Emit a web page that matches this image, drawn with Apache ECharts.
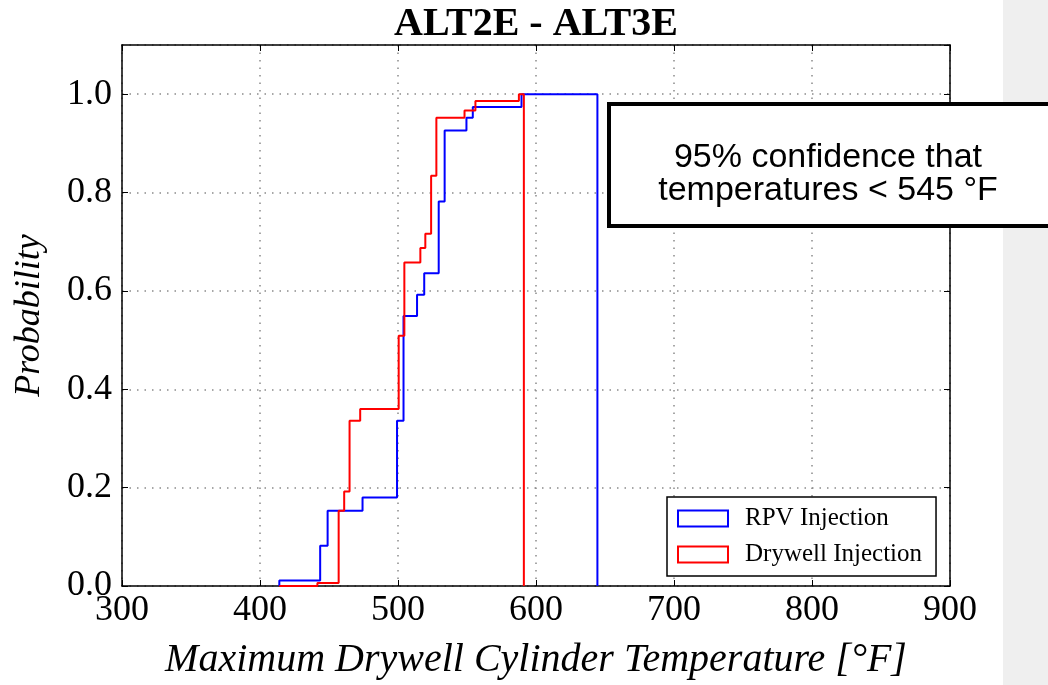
<!DOCTYPE html>
<html>
<head>
<meta charset="utf-8">
<script src="https://cdn.jsdelivr.net/npm/echarts@6/dist/echarts.min.js"></script>
<style>html,body{margin:0;padding:0;background:#fff;}#c{width:1048px;height:685px;}</style>
</head>
<body>
<div id="c"></div>
<script>
// Data (step CDF points: value holds from x until the next x)
const rpvTemp = [414, 414, 443.6, 449, 474.3, 499.3, 504, 513.8, 519, 529.5, 533.8, 549.6, 554.2, 589.5, 644.5];
const rpvProb = [0, 0.011, 0.082, 0.153, 0.180, 0.336, 0.549, 0.592, 0.636, 0.782, 0.926, 0.952, 0.974, 1.0, 0];
const dwTemp = [414, 441.6, 457, 461, 464.9, 472.6, 500.5, 504.6, 516.2, 519.8, 524, 527.8, 548.2, 556.1, 587.6, 591.2];
const dwProb = [0, 0.006, 0.153, 0.192, 0.336, 0.36, 0.509, 0.658, 0.687, 0.716, 0.834, 0.952, 0.967, 0.986, 1.0, 0];
const seriesNames = ['RPV Injection', 'Drywell Injection'];
const titleText = 'ALT2E - ALT3E';
const xName = 'Maximum Drywell Cylinder Temperature [°F]';
const yName = 'Probability';
const noteLines = ['95% confidence that', 'temperatures < 545 °F'];

const serif = '"Liberation Serif", "DejaVu Serif", serif';
const zip = (xs, ys) => xs.map((x, i) => [x, ys[i]]);

const chart = echarts.init(document.getElementById('c'));
const gridLine = {show: true, lineStyle: {color: '#8a8a8a', type: [1.5, 6], width: 1.5}};
chart.setOption({
  animation: false,
  title: {text: titleText, left: 531, textAlign: 'center', top: 0,
    textStyle: {fontFamily: serif, fontWeight: 'bold', fontSize: 40, color: '#000'}},
  grid: {left: 122, right: 98, top: 45, bottom: 97},
  xAxis: [{
    type: 'value', min: 300, max: 900, interval: 100,
    name: xName, nameLocation: 'middle', nameGap: 54,
    nameTextStyle: {fontFamily: serif, fontStyle: 'italic', fontSize: 40, color: '#000'},
    axisLine: {onZero: false, lineStyle: {color: '#000', width: 1.5}},
    axisTick: {inside: true, length: 6, lineStyle: {color: '#000'}},
    axisLabel: {fontFamily: serif, fontSize: 36, color: '#000', margin: 7},
    splitLine: gridLine
  }, {
    type: 'value', position: 'top', min: 300, max: 900, interval: 100,
    axisLine: {show: true, onZero: false, lineStyle: {color: '#000', width: 1.5}},
    axisTick: {inside: true, length: 6, lineStyle: {color: '#000'}},
    axisLabel: {show: false}, splitLine: {show: false}
  }],
  yAxis: [{
    type: 'value', min: 0, max: 1.1, interval: 0.2,
    name: yName, nameLocation: 'middle', nameGap: 74,
    nameTextStyle: {fontFamily: serif, fontStyle: 'italic', fontSize: 36, color: '#000'},
    axisLine: {show: true, onZero: false, lineStyle: {color: '#000', width: 1.5}},
    axisTick: {show: true, inside: true, length: 6, lineStyle: {color: '#000'}},
    axisLabel: {fontFamily: serif, fontSize: 36, color: '#000', margin: 10, showMaxLabel: false,
      formatter: v => v.toFixed(1)},
    splitLine: gridLine
  }, {
    type: 'value', position: 'right', min: 0, max: 1.1, interval: 0.2,
    axisLine: {show: true, onZero: false, lineStyle: {color: '#000', width: 1.5}},
    axisTick: {show: true, inside: true, length: 6, lineStyle: {color: '#000'}},
    axisLabel: {show: false}, splitLine: {show: false}
  }],
  legend: {
    left: 667, top: 497, orient: 'vertical',
    backgroundColor: '#fff', borderColor: '#000', borderWidth: 1.5, borderRadius: 0,
    padding: [9, 14, 9, 10], itemGap: 11, itemWidth: 50, itemHeight: 16,
    formatter: '{a|{name}}',
    textStyle: {rich: {a: {fontFamily: serif, fontSize: 25, color: '#000', padding: [0, 0, 0, 12], lineHeight: 22}}},
    data: [
      {name: seriesNames[0], icon: 'rect', itemStyle: {color: 'rgba(0,0,0,0)', borderColor: '#0000ff', borderWidth: 2}},
      {name: seriesNames[1], icon: 'rect', itemStyle: {color: 'rgba(0,0,0,0)', borderColor: '#ff0000', borderWidth: 2}}
    ]
  },
  series: [
    {name: seriesNames[0], type: 'line', step: 'end', showSymbol: false, symbol: 'none',
      lineStyle: {color: '#0000ff', width: 2}, itemStyle: {color: '#0000ff'},
      data: zip(rpvTemp, rpvProb), z: 3},
    {name: seriesNames[1], type: 'line', step: 'end', showSymbol: false, symbol: 'none',
      lineStyle: {color: '#ff0000', width: 2}, itemStyle: {color: '#ff0000'},
      data: zip(dwTemp, dwProb), z: 4}
  ],
  graphic: [
    {type: 'rect', left: 1003, top: 0, shape: {width: 45, height: 685}, style: {fill: '#efefef'}, z: 1},
    {type: 'rect', left: 607, top: 102, shape: {width: 450, height: 122},
      style: {fill: '#fff', stroke: '#000', lineWidth: 4}, z: 10},
    {type: 'text', x: 828, y: 174, z: 11,
      style: {text: noteLines.join('\n'), fontFamily: '"Liberation Sans", Arial, sans-serif', fontSize: 34,
        lineHeight: 33, fill: '#000', align: 'center', verticalAlign: 'middle'}}
  ]
});
</script>
</body>
</html>
